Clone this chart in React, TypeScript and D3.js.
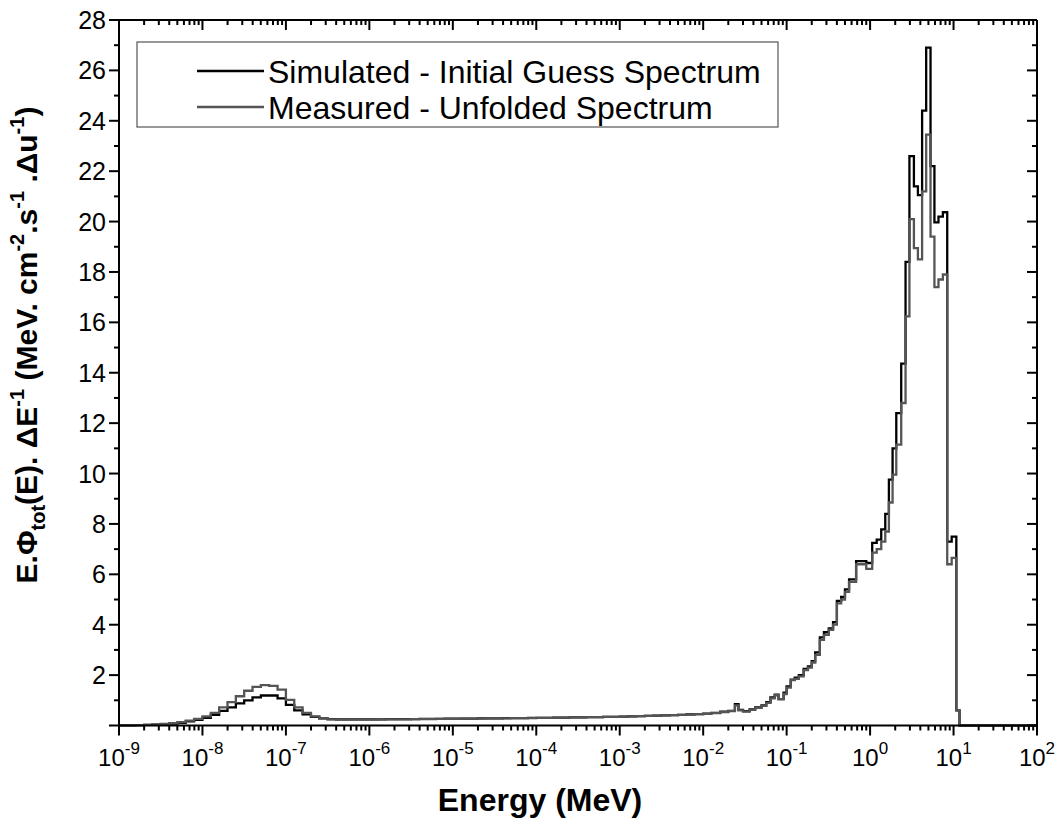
import React from 'react';
import * as d3 from 'd3';

// ---- data ----
// bin edges below 0.01 MeV, as log10(E/MeV)
const lowEdgeExp = [
  -9.0, -8.9, -8.8, -8.7, -8.6, -8.5, -8.4, -8.3, -8.2, -8.1,
  -8.0, -7.9, -7.8, -7.7, -7.6, -7.5, -7.4, -7.3, -7.2, -7.1,
  -7.0, -6.9, -6.8, -6.7, -6.6, -6.5, -6.4, -6.3, -6.2, -6.1,
  -6.0, -5.9, -5.8, -5.7, -5.6, -5.5, -5.4, -5.3, -5.2, -5.1,
  -5.0, -4.9, -4.8, -4.7, -4.6, -4.5, -4.4, -4.3, -4.2, -4.1,
  -4.0, -3.9, -3.8, -3.7, -3.6, -3.5, -3.4, -3.3, -3.2, -3.1,
  -3.0, -2.9, -2.8, -2.7, -2.6, -2.5, -2.4, -2.3, -2.2, -2.1,
  -2.0,
];
// bin edges above 0.01 MeV (MeV)
const highEdgeMeV = [
  0.0125, 0.016, 0.02, 0.024, 0.0265, 0.03, 0.036, 0.042, 0.05, 0.057,
  0.064, 0.072, 0.08, 0.092, 0.1, 0.112, 0.125, 0.14, 0.16, 0.18,
  0.2, 0.22, 0.25, 0.28, 0.32, 0.36, 0.4, 0.45, 0.5, 0.56,
  0.68, 0.9, 1.06, 1.2, 1.36, 1.52, 1.68, 1.86, 2.06, 2.36,
  2.66, 2.96, 3.35, 3.74, 4.2, 4.7, 5.3, 5.9, 6.6, 7.45,
  8.4, 9.5, 10.8, 11.8, 100,
];

const simulatedLow = [
  0.005, 0.009, 0.014, 0.022, 0.034, 0.05, 0.075, 0.11, 0.16, 0.22,
  0.3, 0.42, 0.58, 0.72, 0.88, 1.0, 1.12, 1.19, 1.19, 1.08,
  0.82, 0.6, 0.44, 0.34, 0.28, 0.25, 0.24,
  0.24, 0.24, 0.24, 0.24, 0.24, 0.25, 0.25, 0.25, 0.25, 0.26,
  0.26, 0.26, 0.27, 0.27, 0.27, 0.27, 0.28, 0.28, 0.28, 0.29,
  0.29, 0.29, 0.3, 0.3, 0.3, 0.31, 0.31, 0.32, 0.32, 0.33,
  0.33, 0.34, 0.34, 0.35, 0.36, 0.37, 0.38, 0.39, 0.4, 0.41,
  0.42, 0.44, 0.45,
];
const simulatedHigh = [
  0.47, 0.5, 0.55, 0.58, 0.85, 0.62, 0.57, 0.64, 0.72, 0.8,
  0.93, 1.12, 1.22, 1.05, 1.3, 1.55, 1.82, 1.9, 2.0, 2.25,
  2.35, 2.55, 2.9, 3.5, 3.7, 3.85, 4.1, 4.95, 5.1, 5.4,
  5.8, 6.52, 6.45, 7.25, 7.38, 7.78, 8.4, 9.76, 11.0, 12.4,
  14.36, 18.4, 22.6, 21.4, 21.05, 24.4, 26.9, 22.2, 19.97, 20.2,
  20.37, 7.3, 7.5, 0.6, 0,
];
const measuredLow = [
  0.006, 0.01, 0.016, 0.026, 0.04, 0.06, 0.09, 0.13, 0.19, 0.26,
  0.36, 0.5, 0.72, 0.93, 1.16, 1.38, 1.53, 1.6, 1.57, 1.42,
  1.02, 0.72, 0.5, 0.36, 0.28, 0.24, 0.23,
  0.23, 0.23, 0.23, 0.23, 0.24, 0.24, 0.24, 0.24, 0.25, 0.25,
  0.25, 0.26, 0.26, 0.26, 0.27, 0.27, 0.27, 0.28, 0.28, 0.28,
  0.29, 0.29, 0.29, 0.3, 0.3, 0.31, 0.31, 0.32, 0.32, 0.33,
  0.33, 0.34, 0.34, 0.35, 0.36, 0.37, 0.38, 0.39, 0.4, 0.41,
  0.42, 0.43, 0.45,
];
const measuredHigh = [
  0.46, 0.49, 0.53, 0.57, 0.8, 0.6, 0.55, 0.62, 0.7, 0.78,
  0.9, 1.08, 1.2, 1.05, 1.25, 1.5, 1.8, 1.85, 1.95, 2.2,
  2.3, 2.5, 2.8, 3.4, 3.6, 3.8, 4.0, 4.85, 5.0, 5.3,
  5.7, 6.4, 6.22, 6.86, 7.0, 7.3, 7.7, 8.85, 9.96, 11.15,
  12.8, 16.24, 20.1, 18.95, 18.5, 21.2, 23.45, 19.4, 17.4, 17.7,
  17.9, 6.4, 6.65, 0.6, 0,
];

const decadeExponents = [-9, -8, -7, -6, -5, -4, -3, -2, -1, 0, 1, 2];
const yTickValues = [2, 4, 6, 8, 10, 12, 14, 16, 18, 20, 22, 24, 26, 28];
const legendLabels = ['Simulated - Initial Guess Spectrum', 'Measured - Unfolded Spectrum'];
const seriesColors = ['#000000', '#555555'];

// ---- layout ----
const W = 1061;
const H = 824;
const X0 = 119;
const X1 = 1037;
const Y0 = 725.5;
const Y1 = 20;
const FONT = "'Liberation Sans', Arial, Helvetica, sans-serif";

const edges = [...lowEdgeExp.map((e) => Math.pow(10, e)), ...highEdgeMeV];
const simulated = [...simulatedLow, ...simulatedHigh];
const measured = [...measuredLow, ...measuredHigh];

const x = d3.scaleLog().domain([1e-9, 1e2]).range([X0, X1]);
const y = d3.scaleLinear().domain([0, 28]).range([Y0, Y1]);

function stepPath(vals: number[]): string {
  const pts: [number, number][] = vals.map((v, i) => [edges[i], v]);
  pts.push([edges[edges.length - 1], vals[vals.length - 1]]);
  const line = d3
    .line<[number, number]>()
    .x((d) => x(d[0]))
    .y((d) => y(d[1]))
    .curve(d3.curveStepAfter);
  return line(pts) || '';
}

export default function App() {
  const majorX = decadeExponents.map((e) => Math.pow(10, e));
  const minorX: number[] = [];
  decadeExponents.slice(0, -1).forEach((e) => {
    for (let k = 2; k <= 9; k++) minorX.push(k * Math.pow(10, e));
  });
  const minorY = d3.range(1, 28, 2);
  const majorYAll = d3.range(0, 29, 2);

  const axisColor = '#000';
  const sw = 2;

  return (
    <svg
      width={W}
      height={H}
      style={{ position: 'absolute', left: 0, top: 0, background: '#fff' }}
      fontFamily={FONT}
    >
      <rect x={0} y={0} width={W} height={H} fill="#fff" />

      {/* series */}
      <path d={stepPath(simulated)} fill="none" stroke={seriesColors[0]} strokeWidth={2.3} />
      <path d={stepPath(measured)} fill="none" stroke={seriesColors[1]} strokeWidth={2.3} />

      {/* frame */}
      <line x1={X0} x2={X1} y1={Y0} y2={Y0} stroke={axisColor} strokeWidth={sw} />
      <line x1={X0} x2={X1} y1={Y1} y2={Y1} stroke={axisColor} strokeWidth={sw} />
      <line x1={X0} x2={X0} y1={Y1} y2={Y0 + 1} stroke={axisColor} strokeWidth={sw} />
      <line x1={X1} x2={X1} y1={Y1} y2={Y0 + 1} stroke={axisColor} strokeWidth={sw} />

      {/* x ticks bottom (outward) & top (inward) */}
      {majorX.map((v, i) => (
        <g key={'mx' + i}>
          <line x1={x(v)} x2={x(v)} y1={Y0} y2={Y0 + 10} stroke={axisColor} strokeWidth={sw} />
          <line x1={x(v)} x2={x(v)} y1={Y1} y2={Y1 + 10} stroke={axisColor} strokeWidth={sw} />
        </g>
      ))}
      {minorX.map((v, i) => (
        <g key={'nx' + i}>
          <line x1={x(v)} x2={x(v)} y1={Y0} y2={Y0 + 5} stroke={axisColor} strokeWidth={sw} />
          <line x1={x(v)} x2={x(v)} y1={Y1} y2={Y1 + 5} stroke={axisColor} strokeWidth={sw} />
        </g>
      ))}
      {/* y ticks left (outward) & right (inward) */}
      {majorYAll.map((v, i) => (
        <g key={'my' + i}>
          <line x1={X0 - 10} x2={X0} y1={y(v)} y2={y(v)} stroke={axisColor} strokeWidth={sw} />
          <line x1={X1 - 10} x2={X1} y1={y(v)} y2={y(v)} stroke={axisColor} strokeWidth={sw} />
        </g>
      ))}
      {minorY.map((v, i) => (
        <g key={'ny' + i}>
          <line x1={X0 - 5} x2={X0} y1={y(v)} y2={y(v)} stroke={axisColor} strokeWidth={sw} />
          <line x1={X1 - 5} x2={X1} y1={y(v)} y2={y(v)} stroke={axisColor} strokeWidth={sw} />
        </g>
      ))}

      {/* x tick labels */}
      {decadeExponents.map((e, i) => (
        <text key={'xl' + i} x={x(Math.pow(10, e))} y={766} textAnchor="middle" fontSize={24} fill="#000">
          <tspan>10</tspan>
          <tspan dy={-12} fontSize={17}>{String(e)}</tspan>
        </text>
      ))}

      {/* y tick labels */}
      {yTickValues.map((v, i) => (
        <text key={'yl' + i} x={106} y={y(v)} dy="0.36em" textAnchor="end" fontSize={25} fill="#000">
          {v}
        </text>
      ))}

      {/* axis titles */}
      <text x={540} y={811} textAnchor="middle" fontSize={32} fontWeight="bold" fill="#000">
        Energy (MeV)
      </text>
      <text
        transform={`translate(37,345) rotate(-90)`}
        textAnchor="middle"
        fontSize={30}
        fontWeight="bold"
        fill="#000"
      >
        <tspan>E.Φ</tspan>
        <tspan dy={8} fontSize={20}>tot</tspan>
        <tspan dy={-8}>(E). ΔE</tspan>
        <tspan dy={-13} fontSize={20}>-1</tspan>
        <tspan dy={13}> (MeV. cm</tspan>
        <tspan dy={-13} fontSize={20}>-2</tspan>
        <tspan dy={13}>.s</tspan>
        <tspan dy={-13} fontSize={20}>-1</tspan>
        <tspan dy={13}> .Δu</tspan>
        <tspan dy={-13} fontSize={20}>-1</tspan>
        <tspan dy={13}>)</tspan>
      </text>

      {/* legend */}
      <rect x={137} y={42} width={641} height={85} fill="#fff" stroke="#555" strokeWidth={1.2} />
      {legendLabels.map((lab, i) => (
        <g key={'lg' + i}>
          <line x1={197} x2={264} y1={71 + i * 36} y2={71 + i * 36} stroke={seriesColors[i]} strokeWidth={2.3} />
          <text x={268} y={83 + i * 36} fontSize={32} fill="#000">
            {lab}
          </text>
        </g>
      ))}
    </svg>
  );
}
